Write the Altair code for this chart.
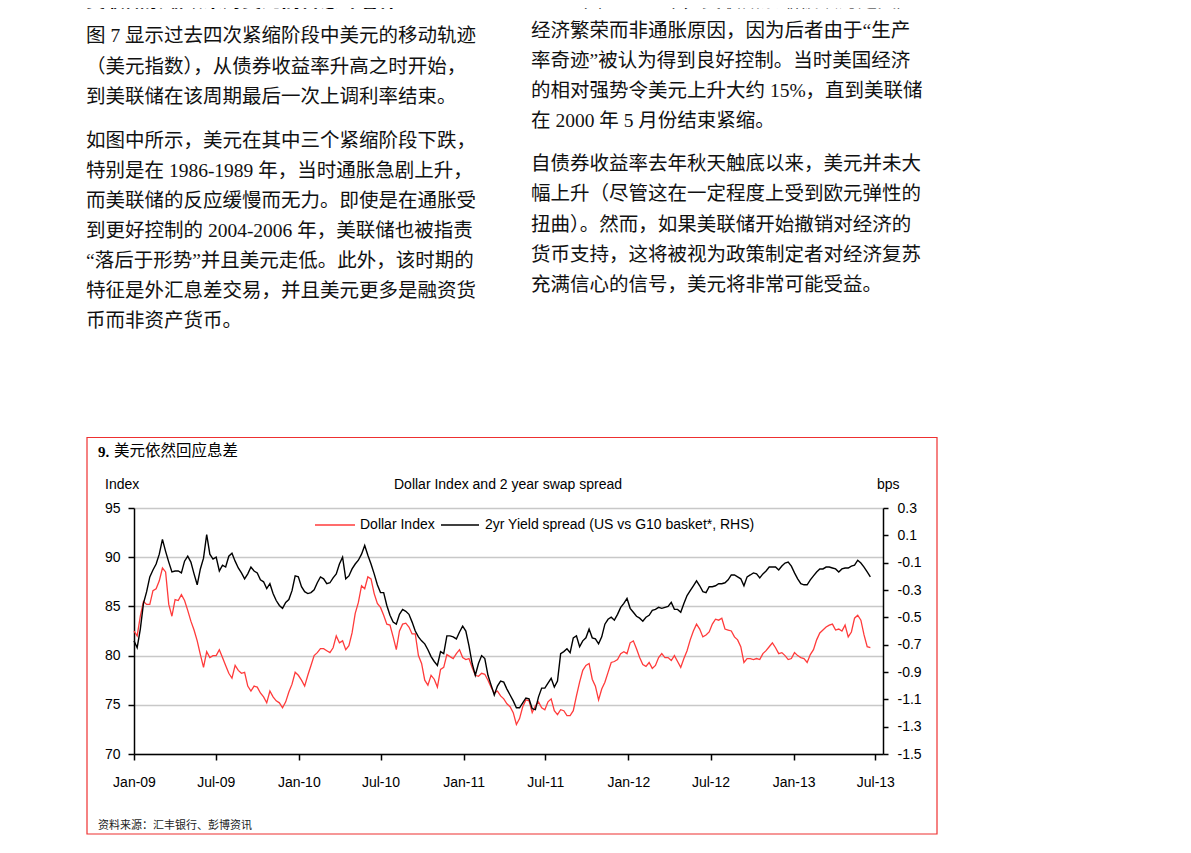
import altair as alt
import pandas as pd

# ---------------- data (weekly readings, Jan 2009 - Jun 2013) ----------------
dollar_index = [
    82.5, 82.0, 84.0, 85.5, 85.2, 85.2, 86.6, 86.8, 87.6, 88.9,
    88.5, 85.2, 84.0, 85.7, 85.6, 86.2, 85.6, 84.6, 83.5, 82.6,
    81.5, 80.1, 78.8, 80.4, 79.8, 80.0, 80.0, 80.6, 79.8, 79.0,
    78.2, 77.7, 79.0, 78.5, 78.2, 78.3, 76.9, 76.4, 76.9, 76.8,
    76.2, 75.8, 75.2, 76.4, 75.8, 75.4, 75.2, 74.7, 75.3, 76.3,
    77.1, 78.3, 78.0, 77.5, 76.9, 78.0, 79.0, 80.0, 80.3, 80.7,
    80.7, 80.5, 80.3, 80.8, 82.0, 81.3, 81.5, 80.6, 81.0, 82.3,
    84.3, 85.4, 87.1, 86.8, 88.0, 87.8, 86.3, 85.3, 84.9, 84.1,
    83.2, 83.1, 81.9, 80.6, 82.5, 83.2, 83.3, 82.9, 82.2, 82.2,
    80.0, 79.2, 77.5, 77.0, 78.0, 77.6, 76.8, 78.6, 78.8, 80.1,
    79.9, 79.7, 80.2, 80.6, 79.8, 79.6, 79.7, 78.8, 78.0, 77.9,
    78.2, 78.1, 77.5, 76.8, 76.2, 76.4, 75.9, 75.6, 75.1, 74.8,
    74.2, 73.0, 73.6, 74.8, 75.5, 75.4, 74.2, 74.9, 75.3, 74.7,
    74.5, 75.3, 75.6, 74.4, 74.0, 74.5, 74.4, 73.9, 73.9, 74.4,
    75.9, 77.3, 78.5, 79.0, 79.2, 77.6, 76.9, 75.5, 76.6, 77.3,
    78.3, 79.3, 79.4, 79.6, 80.2, 80.4, 80.2, 81.3, 81.5, 80.7,
    79.8, 79.1, 78.9, 79.3, 78.7, 79.0, 79.8, 80.2, 79.8, 79.8,
    79.5, 80.0, 79.4, 78.8, 79.7, 80.5, 81.6, 82.5, 83.2, 82.7,
    81.9, 82.1, 82.4, 83.2, 83.7, 83.6, 83.8, 82.7, 82.6, 82.5,
    81.9, 81.6, 80.9, 79.3, 79.7, 79.7, 79.6, 79.7, 79.6, 80.2,
    80.5, 80.9, 81.3, 80.8, 80.2, 80.3, 80.0, 79.6, 79.7, 80.3,
    80.0, 79.8, 79.7, 79.3, 80.1, 80.6, 81.6, 82.3, 82.6, 82.9,
    83.1, 83.2, 82.6, 82.7, 82.5, 83.1, 81.9, 82.4, 83.8, 84.1,
    83.6, 82.1, 80.9, 80.8,
]

yield_spread = [
    -0.672, -0.722, -0.586, -0.398, -0.312, -0.204, -0.154, -0.110, -0.038, 0.070,
    -0.017, -0.096, -0.168, -0.161, -0.161, -0.175, -0.089, -0.053, -0.096, -0.182,
    -0.262, -0.146, -0.067, 0.106, -0.038, -0.074, -0.060, -0.161, -0.118, -0.132,
    -0.053, -0.031, -0.089, -0.139, -0.175, -0.218, -0.182, -0.132, -0.161, -0.175,
    -0.226, -0.240, -0.290, -0.254, -0.326, -0.377, -0.413, -0.434, -0.391, -0.370,
    -0.305, -0.197, -0.204, -0.276, -0.312, -0.326, -0.319, -0.298, -0.247, -0.204,
    -0.218, -0.254, -0.247, -0.211, -0.182, -0.110, -0.060, -0.218, -0.197, -0.146,
    -0.110, -0.082, -0.038, 0.026, -0.046, -0.110, -0.182, -0.262, -0.319, -0.319,
    -0.413, -0.485, -0.535, -0.550, -0.478, -0.442, -0.456, -0.478, -0.535, -0.600,
    -0.643, -0.672, -0.694, -0.737, -0.787, -0.823, -0.852, -0.751, -0.766, -0.636,
    -0.636, -0.643, -0.658, -0.607, -0.564, -0.600, -0.708, -0.838, -0.924, -0.838,
    -0.780, -0.802, -0.924, -0.996, -1.068, -1.003, -0.967, -0.974, -1.025, -1.068,
    -1.111, -1.162, -1.162, -1.126, -1.090, -1.097, -1.169, -1.176, -1.082, -1.018,
    -1.018, -0.982, -0.946, -1.010, -0.967, -0.766, -0.751, -0.730, -0.758, -0.650,
    -0.636, -0.715, -0.672, -0.650, -0.586, -0.650, -0.658, -0.694, -0.643, -0.550,
    -0.514, -0.499, -0.521, -0.478, -0.427, -0.398, -0.362, -0.434, -0.463, -0.492,
    -0.506, -0.528, -0.499, -0.485, -0.449, -0.442, -0.427, -0.434, -0.427, -0.420,
    -0.391, -0.442, -0.442, -0.463, -0.398, -0.341, -0.305, -0.269, -0.233, -0.269,
    -0.312, -0.319, -0.276, -0.276, -0.269, -0.254, -0.254, -0.247, -0.226, -0.190,
    -0.190, -0.204, -0.218, -0.269, -0.204, -0.190, -0.175, -0.182, -0.211, -0.182,
    -0.161, -0.132, -0.132, -0.132, -0.154, -0.125, -0.103, -0.096, -0.125, -0.175,
    -0.218, -0.254, -0.262, -0.262, -0.226, -0.197, -0.168, -0.146, -0.146, -0.132,
    -0.132, -0.139, -0.146, -0.168, -0.146, -0.139, -0.139, -0.125, -0.118, -0.082,
    -0.103, -0.132, -0.168, -0.204,
]

first_week = "2009-01-01"
x_ticks = [(2009, 1), (2009, 7), (2010, 1), (2010, 7), (2011, 1),
           (2011, 7), (2012, 1), (2012, 7), (2013, 1), (2013, 7)]
left_ticks = [70, 75, 80, 85, 90, 95]
right_ticks = [-1.5, -1.3, -1.1, -0.9, -0.7, -0.5, -0.3, -0.1, 0.1, 0.3]

series_names = ["Dollar Index", "2yr Yield spread (US vs G10 basket*, RHS)"]
chart_no = "9."
chart_title_cn = "美元依然回应息差"
chart_title_en = "Dollar Index and 2 year swap spread"
left_unit = "Index"
right_unit = "bps"
source_note = "资料来源：汇丰银行、彭博资讯"

left_head = "美联储紧缩政策对美元而言意味着什么？"
left_para1 = [
    "图 7 显示过去四次紧缩阶段中美元的移动轨迹",
    "（美元指数），从债券收益率升高之时开始，",
    "到美联储在该周期最后一次上调利率结束。",
]
left_para2 = [
    "如图中所示，美元在其中三个紧缩阶段下跌，",
    "特别是在 1986-1989 年，当时通胀急剧上升，",
    "而美联储的反应缓慢而无力。即使是在通胀受",
    "到更好控制的 2004-2006 年，美联储也被指责",
    "“落后于形势”并且美元走低。此外，该时期的",
    "特征是外汇息差交易，并且美元更多是融资货",
    "币而非资产货币。",
]
right_para1 = [
    "1999 年和 2000 年，美联储紧缩被认为是回应",
    "经济繁荣而非通胀原因，因为后者由于“生产",
    "率奇迹”被认为得到良好控制。当时美国经济",
    "的相对强势令美元上升大约 15%，直到美联储",
    "在 2000 年 5 月份结束紧缩。",
]
right_para2 = [
    "自债券收益率去年秋天触底以来，美元并未大",
    "幅上升（尽管这在一定程度上受到欧元弹性的",
    "扭曲）。然而，如果美联储开始撤销对经济的",
    "货币支持，这将被视为政策制定者对经济复苏",
    "充满信心的信号，美元将非常可能受益。",
]

# ---------------- build ----------------
dates = pd.date_range(first_week, periods=len(dollar_index), freq="7D")
df = pd.DataFrame({"date": dates, "dollar": dollar_index, "spread": yield_spread})
deco = pd.DataFrame({"k": [0]})

NARROW = "Liberation Sans Narrow, Arial Narrow, Liberation Sans, Arial, sans-serif"
BODY = "Liberation Serif, Noto Sans CJK SC, serif"
CJK = "Noto Sans CJK SC, sans-serif"
RED = "#ff3b3b"
FS = 14

# plot area origin on the page (the page has an 8px margin)
OX, OY = 134, 508
PW, PH = 749, 246


def rel_x(px):
    return px - OX


def rel_y(py):
    return py - OY


def label(text, px, py, size, font, weight="normal", align="left",
          baseline="middle", color="#000", line_height=None):
    kw = dict(text=text, fontSize=size, font=font, fontWeight=weight,
              align=align, baseline=baseline, color=color)
    if line_height is not None:
        kw["lineHeight"] = line_height
    return alt.Chart(deco).mark_text(**kw).encode(
        x=alt.value(rel_x(px)), y=alt.value(rel_y(py)))


x_enc = alt.X(
    "date:T",
    scale=alt.Scale(domain=[alt.DateTime(year=2009, month=1, date=1),
                            alt.DateTime(year=2013, month=7, date=18)]),
    axis=alt.Axis(
        values=[alt.DateTime(year=y, month=m, date=1) for y, m in x_ticks],
        format="%b-%y", title=None, labelFont=NARROW, labelFontSize=FS,
        labelColor="#000", tickSize=6, tickColor="#000", tickWidth=1.5,
        domainColor="#000", domainWidth=1.5, labelPadding=15, grid=False,
        labelFlush=False, labelOverlap=False,
    ),
)

dollar_line = alt.Chart(df).mark_line(color=RED, strokeWidth=1.3).encode(
    x=x_enc,
    y=alt.Y(
        "dollar:Q",
        scale=alt.Scale(domain=[70, 95], nice=False, zero=False),
        axis=alt.Axis(
            orient="left", values=left_ticks, title=None, labelFont=NARROW,
            labelFontSize=FS, labelColor="#000", tickSize=6, tickWidth=1.5,
            tickColor="#000", domainColor="#000", domainWidth=1.5,
            labelPadding=8, grid=True, gridColor="#c8c8c8", gridWidth=1.3,
        ),
    ),
)

spread_line = alt.Chart(df).mark_line(color="#000000", strokeWidth=1.4).encode(
    x=x_enc,
    y=alt.Y(
        "spread:Q",
        scale=alt.Scale(domain=[-1.5, 0.3], nice=False, zero=False),
        axis=alt.Axis(
            orient="right", values=right_ticks, title=None, labelFont=NARROW,
            labelFontSize=FS, labelColor="#000", tickSize=5, tickWidth=1.5,
            tickColor="#000", domainColor="#000", domainWidth=1.5,
            labelPadding=9, grid=False,
            labelExpr="datum.value < 0 ? '-' + format(-datum.value, '.1f') : format(datum.value, '.1f')",
        ),
    ),
)

border = alt.Chart(deco).mark_rect(
    fill="#ffffff", fillOpacity=0, stroke="#ee3030", strokeWidth=1.2
).encode(
    x=alt.value(rel_x(87)), x2=alt.value(rel_x(937)),
    y=alt.value(rel_y(437.5)), y2=alt.value(rel_y(834)),
)

legend_red = alt.Chart(deco).mark_rule(color=RED, strokeWidth=1.5).encode(
    x=alt.value(rel_x(315)), x2=alt.value(rel_x(355)), y=alt.value(rel_y(525)))
legend_black = alt.Chart(deco).mark_rule(color="#000", strokeWidth=1.5).encode(
    x=alt.value(rel_x(441)), x2=alt.value(rel_x(479)), y=alt.value(rel_y(525)))

layers = [
    border,
    label(left_head, 86, 1, 19.5, BODY, weight="bold"),
    label(left_para1, 86, 27, 19.5, BODY, baseline="top", line_height=30.5, color="#111"),
    label(left_para2, 86, 132, 19.5, BODY, baseline="top", line_height=30, color="#111"),
    label(right_para1, 531, -8, 19.5, BODY, baseline="top", line_height=30, color="#111"),
    label(right_para2, 531, 155, 19.5, BODY, baseline="top", line_height=30.25, color="#111"),
    label(chart_no, 98, 452, 15, "Liberation Serif, serif", weight="bold"),
    label(chart_title_cn, 114, 451, 15.5, CJK),
    label(left_unit, 105, 485, FS, NARROW),
    label(chart_title_en, 508, 485, FS, NARROW, align="center"),
    label(right_unit, 877, 485, FS, NARROW),
    legend_red,
    label(series_names[0], 360, 525, FS, NARROW),
    legend_black,
    label(series_names[1], 485, 525, FS, NARROW),
    label(source_note, 98, 826, 11, CJK, color="#222"),
    dollar_line,
    spread_line,
]

chart = alt.layer(*layers).resolve_scale(y="independent").properties(
    width=PW,
    height=PH,
    padding={"left": OX - 8, "top": OY - 8, "right": 1175 - (OX - 8) - PW,
             "bottom": 837 - (OY - 8) - PH},
    autosize=alt.AutoSizeParams(type="none"),
    background="#ffffff",
).configure_view(strokeWidth=0)

chart.save("out.html", embed_options={"renderer": "svg", "actions": False})
